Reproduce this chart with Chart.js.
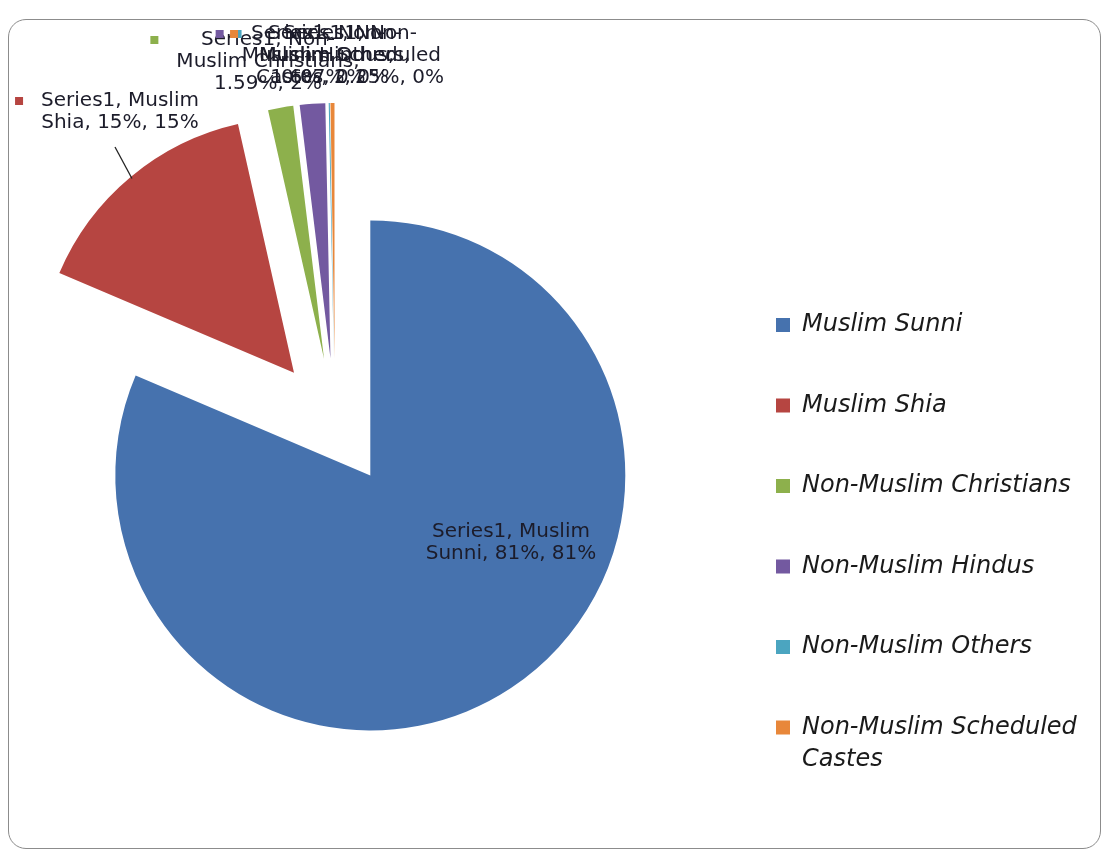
<!DOCTYPE html>
<html>
<head>
<meta charset="utf-8">
<script src="https://cdn.jsdelivr.net/npm/chart.js@4.4.1/dist/chart.umd.min.js"></script>
<style>
  html, body { margin: 0; padding: 0; background: #fff; }
  #wrap { position: relative; width: 1108px; height: 854px; }
  #frame { position: absolute; left: 8px; top: 19px; width: 1091px; height: 828px;
           border: 1.5px solid #8c8c8c; border-radius: 18px; }
  canvas { position: absolute; left: 0; top: 0; }
</style>
</head>
<body>
<div id="wrap">
  <div id="frame"></div>
  <canvas id="pie" width="1108" height="854"></canvas>
</div>
<script>
// data
const seriesName = 'Series1';
const categories = ['Muslim Sunni', 'Muslim Shia', 'Non-Muslim Christians', 'Non-Muslim Hindus', 'Non-Muslim Others', 'Non-Muslim Scheduled Castes'];
const shares = [81, 15, 1.59, 1.6, 0.07, 0.25];
const sliceColors = ['#4672AE', '#B64541', '#8DB04C', '#7359A0', '#4BA5C0', '#E8873A'];

const pieRadius = 255;

// word wrap, also allowing a break after a hyphen
function wrapText(ctx, text, maxWidth) {
  const parts = [];
  text.split(' ').forEach(w => {
    w.split(/(?<=-)/).forEach((b, k) => parts.push({ s: b, join: k === 0 ? ' ' : '' }));
  });
  const lines = [];
  let cur = '';
  parts.forEach(p => {
    const trial = cur === '' ? p.s : cur + p.join + p.s;
    if (cur !== '' && ctx.measureText(trial).width > maxWidth) {
      lines.push(cur);
      cur = p.s;
    } else {
      cur = trial;
    }
  });
  if (cur) lines.push(cur);
  return lines;
}

// pull every slice out along its bisector (excel style explosion, all slices the same)
const explode = {
  id: 'explode',
  beforeDatasetsDraw(chart, args, opts) {
    const { chartArea } = chart;
    const cx = (chartArea.left + chartArea.right) / 2;
    const cy = (chartArea.top + chartArea.bottom) / 2;
    chart.getDatasetMeta(0).data.forEach(arc => {
      const mid = (arc.startAngle + arc.endAngle) / 2;
      arc.x = cx + Math.cos(mid) * opts.distance;
      arc.y = cy + Math.sin(mid) * opts.distance;
    });
  }
};

// data labels "Series1, name, value%, percent%"
const sliceLabels = {
  id: 'sliceLabels',
  afterDatasetsDraw(chart, args, opts) {
    const { ctx } = chart;
    const meta = chart.getDatasetMeta(0);
    const values = chart.data.datasets[0].data;
    const total = values.reduce((a, b) => a + b, 0);
    ctx.save();
    ctx.font = opts.font;
    ctx.textAlign = 'center';
    ctx.textBaseline = 'middle';
    meta.data.forEach((arc, i) => {
      const pos = opts.positions[i];
      const pct = Math.round(values[i] / total * 100);
      const text = `${seriesName}, ${chart.data.labels[i]}, ${values[i]}%, ${pct}%`;
      const lines = wrapText(ctx, text, opts.maxWidth);
      const blockW = Math.max(...lines.map(l => ctx.measureText(l).width));

      if (pos.leader) {
        const mid = (arc.startAngle + arc.endAngle) / 2;
        const ax = arc.x + Math.cos(mid) * (arc.outerRadius - 2);
        const ay = arc.y + Math.sin(mid) * (arc.outerRadius - 2);
        ctx.strokeStyle = '#222';
        ctx.lineWidth = 1.3;
        ctx.beginPath();
        ctx.moveTo(ax, ay);
        ctx.lineTo(pos.x - 5, pos.y + (lines.length - 1) * opts.lineHeight + 24);
        ctx.stroke();
      }
      if (pos.marker) {
        ctx.fillStyle = sliceColors[i];
        ctx.fillRect(pos.x - blockW / 2 - 26, pos.y - 4, 8, 8);
      }
      ctx.fillStyle = opts.color;
      lines.forEach((l, k) => ctx.fillText(l, pos.x, pos.y + k * opts.lineHeight));
    });
    ctx.restore();
  }
};

// legend on the right, drawn from the same arrays
const sideLegend = {
  id: 'sideLegend',
  afterDraw(chart, args, opts) {
    const { ctx } = chart;
    ctx.save();
    ctx.font = opts.font;
    ctx.textAlign = 'left';
    ctx.textBaseline = 'middle';
    chart.data.labels.forEach((name, i) => {
      const y = opts.top + i * opts.step;
      ctx.fillStyle = sliceColors[i];
      ctx.fillRect(opts.x, y - opts.box / 2, opts.box, opts.box);
      ctx.fillStyle = opts.color;
      wrapText(ctx, name, opts.maxWidth).forEach((l, k) => {
        ctx.fillText(l, opts.x + opts.box + opts.gap, y + k * opts.lineHeight);
      });
    });
    ctx.restore();
  }
};

const pieChart = new Chart(document.getElementById('pie').getContext('2d'), {
  type: 'pie',
  data: {
    labels: categories,
    datasets: [{
      label: seriesName,
      data: shares,
      backgroundColor: sliceColors,
      borderWidth: 0,
      hoverOffset: 0
    }]
  },
  options: {
    responsive: false,
    animation: false,
    radius: pieRadius,
    layout: { padding: { left: 48, right: 486, top: 135, bottom: 145 } },
    plugins: {
      legend: { display: false },
      tooltip: { enabled: false },
      explode: { distance: 64 },
      sliceLabels: {
        font: "20px 'DejaVu Sans'",
        color: '#1c1c2a',
        maxWidth: 195,
        lineHeight: 22,
        positions: [
          { x: 511, y: 532 },
          { x: 120, y: 101, marker: true, leader: true },
          { x: 268, y: 40, marker: true },
          { x: 318, y: 34, marker: true },
          { x: 335, y: 34, marker: true },
          { x: 350, y: 34, marker: true }
        ]
      },
      sideLegend: {
        font: "italic 24px 'DejaVu Sans'",
        color: '#1a1a1a',
        x: 776, top: 325, step: 80.5,
        box: 14, gap: 12, maxWidth: 290, lineHeight: 32
      }
    }
  },
  plugins: [explode, sliceLabels, sideLegend]
});
</script>
</body>
</html>
